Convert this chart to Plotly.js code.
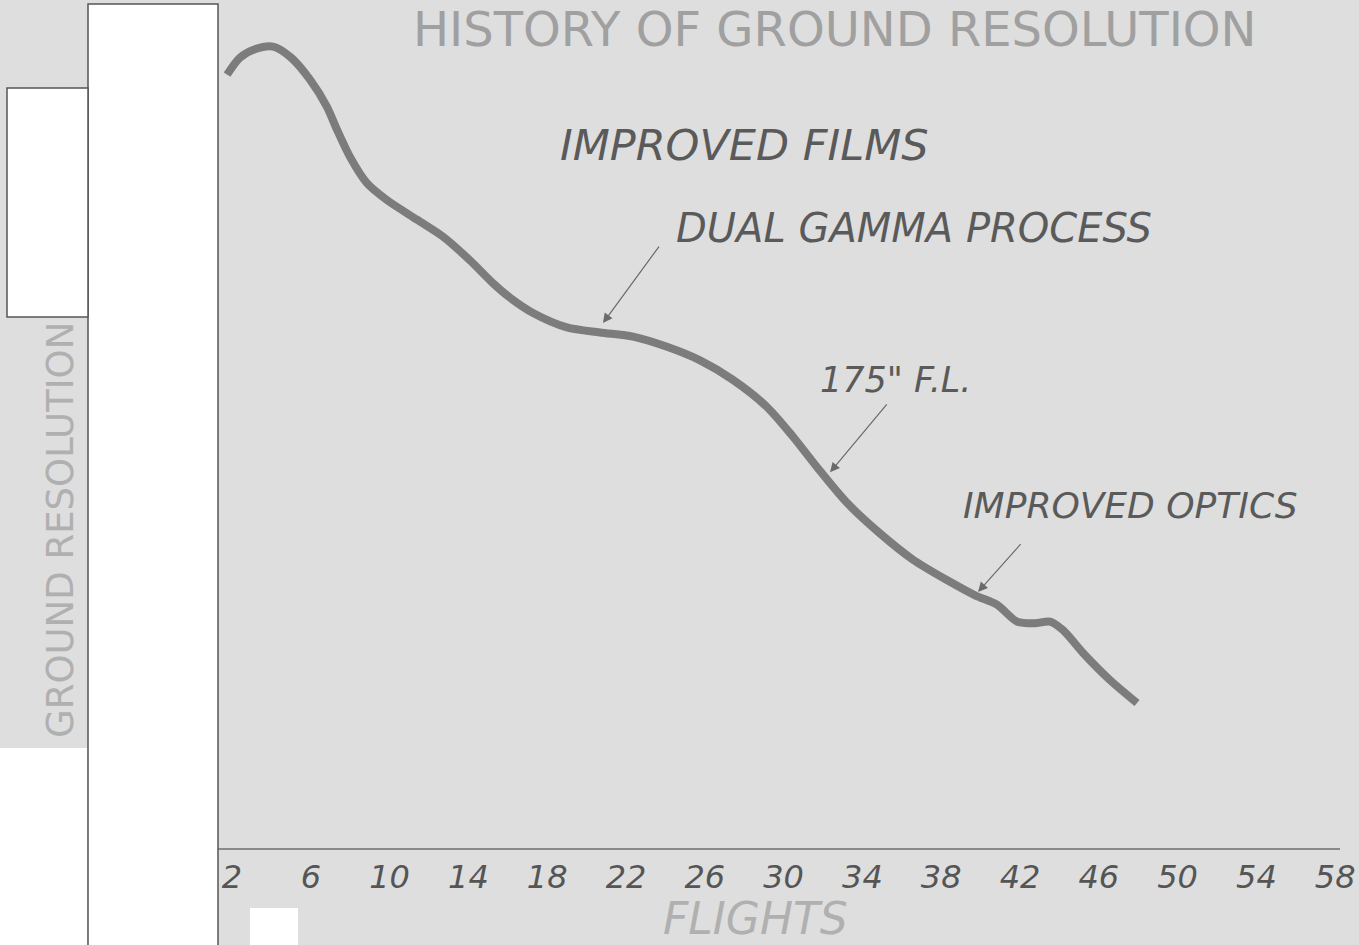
<!DOCTYPE html>
<html>
<head>
<meta charset="utf-8">
<script src="https://cdn.plot.ly/plotly-3.0.1.min.js"></script>
<style>
  html, body { margin: 0; padding: 0; background: #dedede; }
  #chart { width: 1359px; height: 945px; }
</style>
</head>
<body>
<div id="chart"></div>
<script>
// ---- Data (ground resolution in arbitrary relative units) ----
const flights = [1.75, 2.4, 3.17, 4.08, 5.0, 5.96, 6.82, 7.33, 7.99, 8.85, 9.87, 11.39, 12.71, 14.08, 15.25, 16.11,
                 17.28, 19.0, 20.68, 22.36, 24.08, 25.76, 27.43, 29.16, 30.48, 31.7, 33.22, 34.89, 36.57, 38.29,
                 39.72, 40.83, 41.85, 42.76, 43.52, 44.18, 45.2, 46.57, 47.94];
const resolution = [91.2, 93.2, 94.2, 94.5, 93.2, 90.6, 87.4, 84.7, 81.5, 78.4, 76.4, 74.1, 72.1, 69.3, 66.6, 64.9,
                    63.1, 61.4, 60.8, 60.3, 59.1, 57.5, 55.2, 52.0, 48.5, 44.9, 40.7, 37.1, 34.0, 31.6,
                    29.8, 28.7, 26.7, 26.5, 26.7, 25.7, 23.0, 19.8, 17.1];
const tickValues = [2, 6, 10, 14, 18, 22, 26, 30, 34, 38, 42, 46, 50, 54, 58];
const tickLabels = ["2", "6", "10", "14", "18", "22", "26", "30", "34", "38", "42", "46", "50", "54", "58"];

// Notes: label text, label centre (flight, resolution), arrow tail and head (flight, resolution)
const noteTexts   = ["IMPROVED FILMS", "DUAL GAMMA PROCESS", "175\" F.L.", "IMPROVED OPTICS"];
const noteX       = [28.0, 36.6, 35.7, 47.6];
const noteY       = [82.9, 73.1, 55.2, 40.4];
const arrowTailX  = [null, 23.73, 35.3, 42.1];
const arrowTailY  = [null, 71.1, 52.5, 36.0];
const arrowHeadX  = [null, 20.83, 32.36, 39.87];
const arrowHeadY  = [null, 61.9, 44.3, 30.2];

const chartTitle = "HISTORY OF GROUND RESOLUTION";
const xTitle = "FLIGHTS";
const yTitle = "GROUND RESOLUTION";

// styling
const noteFontSizes = [43, 40, 35, 36];
const BG = '#dedede';
const annotations = [];

noteTexts.forEach((t, i) => {
  annotations.push({
    x: noteX[i], y: noteY[i], xref: 'x', yref: 'y', text: t, showarrow: false,
    xanchor: 'center', yanchor: 'middle',
    font: {family: 'DejaVu Sans', size: noteFontSizes[i], color: '#5a5a5a', style: 'italic'}
  });
  if (arrowTailX[i] !== null) {
    annotations.push({
      x: arrowHeadX[i], y: arrowHeadY[i], xref: 'x', yref: 'y',
      ax: arrowTailX[i], ay: arrowTailY[i], axref: 'x', ayref: 'y',
      text: '', showarrow: true, arrowhead: 2, arrowsize: 1.6, arrowwidth: 1.2,
      arrowcolor: '#6a6a6a', standoff: 0
    });
  }
});

annotations.push({
  x: (835 - 218) / 1122, y: 1, xref: 'paper', yref: 'paper',
  text: chartTitle, showarrow: false, xanchor: 'center', yanchor: 'top', borderpad: 0,
  font: {family: 'DejaVu Sans', size: 48, color: '#a0a0a0'}
});
annotations.push({
  x: (755 - 218) / 1122, y: (848 - 945) / 848, xref: 'paper', yref: 'paper',
  text: xTitle, showarrow: false, xanchor: 'center', yanchor: 'bottom', borderpad: 0,
  font: {family: 'DejaVu Sans', size: 44, color: '#b0b0b0', style: 'italic'}
});
annotations.push({
  x: (60 - 218) / 1122, y: (848 - 530) / 848, xref: 'paper', yref: 'paper',
  text: yTitle, showarrow: false, textangle: -90, xanchor: 'center', yanchor: 'middle',
  font: {family: 'DejaVu Sans', size: 37, color: '#b0b0b0'}
});

function px(p) { return (p - 218) / 1122; }
function py(p) { return (848 - p) / 848; }

const shapes = [
  // redacted white boxes on the left
  {type: 'rect', xref: 'paper', yref: 'paper', x0: px(88), x1: px(218), y0: py(950), y1: py(4),
   fillcolor: '#ffffff', line: {color: '#555555', width: 1.5}, layer: 'above'},
  {type: 'rect', xref: 'paper', yref: 'paper', x0: px(7), x1: px(88), y0: py(317), y1: py(88),
   fillcolor: '#ffffff', line: {color: '#555555', width: 1.5}, layer: 'above'},
  {type: 'rect', xref: 'paper', yref: 'paper', x0: px(-2), x1: px(87), y0: py(950), y1: py(748),
   fillcolor: '#ffffff', line: {width: 0}, layer: 'above'},
  {type: 'rect', xref: 'paper', yref: 'paper', x0: px(250), x1: px(298), y0: py(950), y1: py(908),
   fillcolor: '#ffffff', line: {width: 0}, layer: 'above'}
];

const trace = {
  x: flights, y: resolution, type: 'scatter', mode: 'lines',
  line: {color: '#7c7c7c', width: 8, shape: 'spline', smoothing: 0.8},
  hoverinfo: 'skip'
};

const layout = {
  width: 1359, height: 945,
  margin: {l: 218, r: 19, t: 0, b: 97},
  paper_bgcolor: BG, plot_bgcolor: BG,
  showlegend: false,
  xaxis: {
    range: [2 + (218 - 232) / 19.7, 2 + (1340 - 232) / 19.7],
    tickmode: 'array', tickvals: tickValues, ticktext: tickLabels,
    showgrid: false, zeroline: false, showline: true, linecolor: '#8a8a8a', linewidth: 2,
    ticks: '', ticklabelstandoff: 0,
    tickfont: {family: 'DejaVu Sans', size: 32, color: '#555555', style: 'italic'}
  },
  yaxis: {
    range: [0, 100], showgrid: false, zeroline: false, showline: false,
    showticklabels: false, ticks: ''
  },
  annotations: annotations,
  shapes: shapes
};

Plotly.newPlot('chart', [trace], layout, {displayModeBar: false, staticPlot: true});
</script>
</body>
</html>
